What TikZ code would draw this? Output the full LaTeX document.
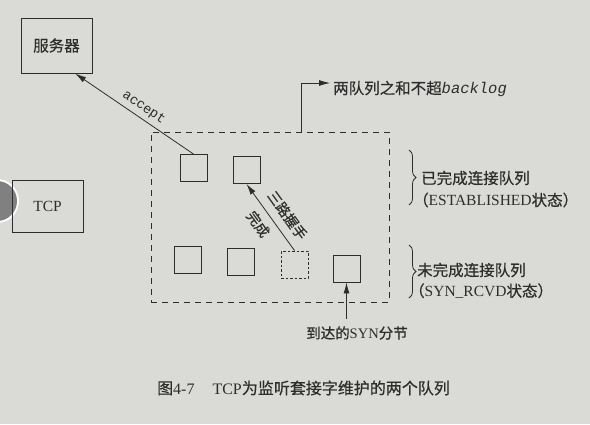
\documentclass[tikz,border=0pt]{standalone}
\usepackage{fontspec}
\setmainfont{Liberation Serif}
\newfontfamily\cjk[FakeBold=0.5]{Noto Sans CJK SC}
\newfontfamily\monofnt{Liberation Mono}
\usetikzlibrary{arrows.meta,decorations.pathreplacing,calc}
\definecolor{paper}{RGB}{218,218,214}
\definecolor{ink}{RGB}{45,45,45}
\begin{document}
\begin{tikzpicture}[x=1pt,y=-1pt,
  lbl/.style={text=ink, font=\cjk\fontsize{15.5}{18}\selectfont, inner sep=0pt},
  box/.style={lbl, draw=ink, line width=1pt, minimum width=71pt, minimum height=55pt},
  cell/.style={draw=ink, line width=0.9pt, minimum size=27pt, inner sep=0pt},
  ghost/.style={cell, dash pattern=on 2.5pt off 2pt},
  arr/.style={draw=ink, line width=0.8pt, -{Latex[length=11pt,width=6pt]}},
  brc/.style={draw=ink, line width=0.8pt, decorate, decoration={brace, amplitude=7pt}},
  small/.style={lbl, font=\cjk\fontsize{14}{16}\selectfont},
]
\fill[paper] (0,0) rectangle (590,424);
\useasboundingbox (0,0) rectangle (590,424);
% photo artefact at the left edge
\fill[white] (-3,201) circle (22);
\fill[gray] (-3,201) circle (20);

% left boxes
\node[box] (srv) at (56.5,45.5) {服务器};
\node[box, minimum height=52pt, font=\rmfamily\fontsize{15.5}{18}\selectfont] (tcp) at (47.5,206) {TCP};

% queue area
\node[draw=ink, dash pattern=on 6pt off 5pt, line width=0.9pt, minimum width=238pt, minimum height=170pt, inner sep=0pt] (q) at (270,217) {};

\node[cell] (b1) at (193.5,168) {};
\node[cell] (b2) at (246.5,170) {};
\node[cell] (b3) at (188,260) {};
\node[cell] (b4) at (241,262) {};
\node[ghost] (b5) at (294.5,264.5) {};
\node[cell] (b6) at (346.5,268.5) {};

% accept
\coordinate (tip) at ($(srv.south west)!0.76!(srv.south east)$);
\draw[arr] (b1.north) -- node[sloped, pos=0.47, above=4pt, text=ink, inner sep=0pt, font=\monofnt\fontsize{13.5}{16}\selectfont] {accept} (tip);

% three-way handshake
\draw[arr] (b5.north) -- node[small, sloped, pos=0.40, above=8pt] {三路握手}
                         node[small, sloped, pos=0.52, below=7pt] {完成} (b2.south);

% backlog
\node[lbl, anchor=west] (bl) at (333,89) {两队列之和不超{\monofnt\itshape backlog}};
\coordinate (bk) at (301,132);
\draw[arr] (bk) |- ($(bl.west)+(-3,-6)$);

% braces and queue labels
\draw[brc] (409,150) -- (409,205);
\draw[brc] (409,245) -- (409,298);
\node[lbl, anchor=west] (e1) at (421,178) {已完成连接队列};
\node[lbl, anchor=west] (e2) at (413,200) {（{\rmfamily ESTABLISHED}状态）};
\node[lbl, anchor=west] (s1) at (417,270) {未完成连接队列};
\node[lbl, anchor=west] (s2) at (409,291) {（{\rmfamily SYN\_RCVD}状态）};

% arriving SYN
\node[small, font=\cjk\fontsize{14.5}{17}\selectfont] (synl) at (357,333) {到达的{\rmfamily SYN}分节};
\coordinate (syn) at (346.5,319);
\draw[arr] (syn) -- (b6.south);

% caption
\node[lbl, anchor=west, font=\cjk\fontsize{16}{19}\selectfont] (cap) at (157,388) {图{\rmfamily 4-7}\hspace{18pt}{\rmfamily TCP}为监听套接字维护的两个队列};
\end{tikzpicture}
\end{document}
